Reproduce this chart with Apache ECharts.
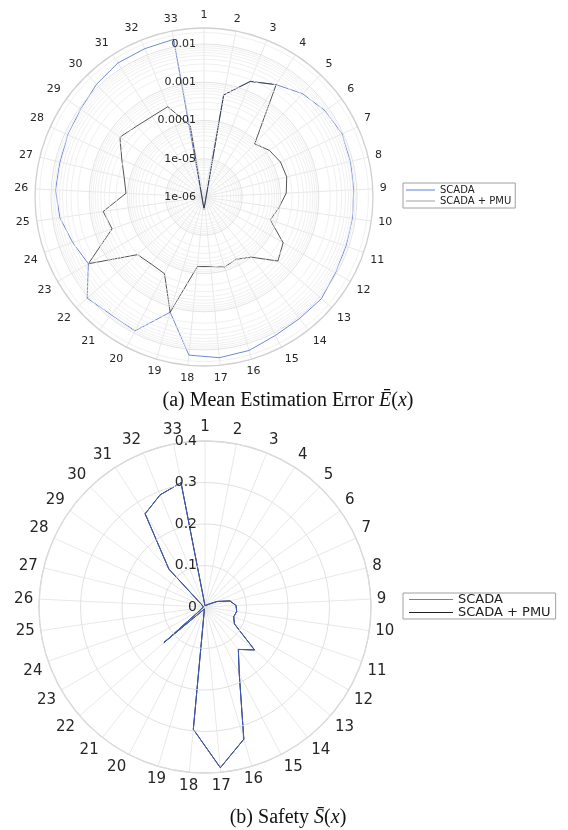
<!DOCTYPE html>
<html>
<head>
<meta charset="utf-8">
<script src="https://cdn.jsdelivr.net/npm/echarts@6/dist/echarts.min.js"></script>
<style>
html, body { margin: 0; padding: 0; background: #fff; }
#main { width: 568px; height: 830px; }
</style>
</head>
<body>
<div id="main"></div>
<script>
// bus numbers around the circle (clockwise from the top)
var buses = ['1','2','3','4','5','6','7','8','9','10','11','12','13','14','15','16','17',
             '18','19','20','21','22','23','24','25','26','27','28','29','30','31','32','33'];

// (a) mean estimation error, log scale
var errScada = [4.8e-7, 5.2e-4, 1.8e-3, 3.1e-3, 5.4e-3, 7.7e-3, 9.3e-3, 8.7e-3, 8.3e-3, 8.3e-3,
                8.5e-3, 9.3e-3, 1.15e-2, 1.1e-2, 1.18e-2, 1.52e-2, 1.66e-2, 1.42e-2, 1.38e-3, 8.7e-3,
                8.3e-3, 1.1e-2, 3.1e-3, 4.3e-3, 6.4e-3, 7.7e-3, 7.5e-3, 8.2e-3, 9.1e-3, 1.18e-2,
                1.46e-2, 1.5e-2, 1.58e-2];
var errPmu = [4.8e-7, 5.2e-4, 1.8e-3, 3.1e-3, 8.3e-5, 1.26e-4, 1.58e-4, 1.68e-4, 1.42e-4, 9.5e-5,
              6.8e-5, 2.45e-4, 3.6e-4, 1.0e-4, 6.8e-5, 8.1e-5, 6.7e-5, 6.7e-5, 1.38e-3, 1.8e-4,
              1.7e-4, 2.0e-4, 3.1e-3, 3.5e-4, 4.6e-4, 1.1e-4, 1.4e-4, 2.3e-4, 5.0e-4, 3.6e-4,
              3.2e-4, 3.5e-4, 7.8e-5];
var errTicks = [1e-6, 1e-5, 1e-4, 1e-3, 1e-2];
var errTickLabels = ['1e-06', '1e-05', '0.0001', '0.001', '0.01'];

// (b) safety, linear scale
var safeScada = [0.003, 0.004, 0.004, 0.005, 0.006, 0.012, 0.032, 0.062, 0.075, 0.077,
                 0.073, 0.082, 0.158, 0.13, 0.18, 0.332, 0.389, 0.296, 0.005, 0.005,
                 0.01, 0.131, 0.01, 0.005, 0.005, 0.004, 0.004, 0.005, 0.01, 0.126,
                 0.267, 0.291, 0.305];
var safePmu = safeScada.slice();
var safeTicks = [0, 0.1, 0.2, 0.3, 0.4];

// minor log grid circles 1..9 x 10^k
var errGrid = [];
for (var k = -6; k <= -2; k++) {
  for (var m = 1; m <= 9; m++) errGrid.push(m * Math.pow(10, k));
}

// [radius, angle] pairs, first point repeated to close the loop
function closed(vals) {
  var out = vals.map(function (v, i) { return [v, i]; });
  out.push([vals[0], vals.length]);
  return out;
}

var font = 'DejaVu Sans';
var serif = 'Liberation Serif';
var chart = echarts.init(document.getElementById('main'));

function angleAxis(idx, size, margin) {
  return {
    polarIndex: idx, type: 'value', min: 0, max: buses.length, interval: 1,
    startAngle: 90, clockwise: true,
    axisLine: { lineStyle: { color: '#d0d0d0', width: 1.3 } },
    axisTick: { show: false },
    splitLine: { lineStyle: { color: '#e2e2e2', width: 0.8 } },
    axisLabel: {
      margin: margin, color: '#262626', fontSize: size, fontFamily: font,
      formatter: function (v) { return buses[v] || ''; }
    }
  };
}

function caption(y, text) {
  return {
    type: 'text', x: 288, y: y,
    style: {
      text: text, align: 'center', verticalAlign: 'middle',
      rich: {
        n: { fontFamily: serif, fontSize: 20, fill: '#111' },
        i: { fontFamily: serif, fontSize: 20, fontStyle: 'italic', fill: '#111' }
      }
    }
  };
}

var option = {
  animation: false,
  backgroundColor: '#fff',
  polar: [
    { center: [204, 197], radius: 169 },
    { center: [205, 607], radius: 166 }
  ],
  angleAxis: [angleAxis(0, 11, 7), angleAxis(1, 15, 6)],
  radiusAxis: [
    {
      polarIndex: 0, type: 'log', min: 0.999e-6, max: 0.0262,
      axisLine: { show: false },
      axisTick: { show: false, customValues: errGrid },
      splitLine: { lineStyle: { width: 0.8,
        color: ['#dcdcdc', '#ececec', '#ececec', '#ececec', '#ececec', '#ececec', '#ececec', '#ececec', '#ececec'] } },
      axisLabel: {
        customValues: errTicks, color: '#262626', fontSize: 11, fontFamily: font,
        formatter: function (v) {
          for (var i = 0; i < errTicks.length; i++) {
            if (Math.abs(Math.log10(v / errTicks[i])) < 1e-6) return errTickLabels[i];
          }
          return '';
        }
      },
      z: 5
    },
    {
      polarIndex: 1, type: 'value', min: safeTicks[0], max: safeTicks[safeTicks.length - 1], interval: 0.1,
      axisLine: { show: false },
      axisTick: { show: false },
      splitLine: { lineStyle: { color: '#dedede', width: 0.9 } },
      axisLabel: { color: '#262626', fontSize: 14, fontFamily: font },
      z: 5
    }
  ],
  legend: [
    {
      left: 403, top: 183, orient: 'vertical', selectedMode: false,
      icon: 'rect', itemWidth: 29, itemHeight: 1, itemGap: 1, padding: [2, 4, 2, 3],
      borderColor: '#a0a0a0', borderWidth: 1,
      textStyle: { fontFamily: font, fontSize: 10, color: '#222' },
      data: [
        { name: 'SCADA', itemStyle: { color: '#5f7fd8' } },
        { name: 'SCADA + PMU', itemStyle: { color: '#a0a0a0' } }
      ]
    },
    {
      left: 403, top: 593, orient: 'vertical', selectedMode: false,
      icon: 'rect', itemWidth: 44, itemHeight: 1, itemGap: 0, padding: [0, 5, 0, 6],
      borderColor: '#a0a0a0', borderWidth: 1,
      textStyle: { fontFamily: font, fontSize: 13, color: '#222' },
      data: [
        { name: 'SCADA', itemStyle: { color: '#5f7fd8' } },
        { name: 'SCADA + PMU', itemStyle: { color: '#222' } }
      ]
    }
  ],
  series: [
    {
      name: 'SCADA', type: 'line', coordinateSystem: 'polar', polarIndex: 0,
      data: closed(errScada), symbol: 'none', clip: false,
      lineStyle: { color: '#4b6bcc', width: 0.8 }, itemStyle: { color: '#4b6bcc' }, z: 3
    },
    {
      name: 'SCADA + PMU', type: 'line', coordinateSystem: 'polar', polarIndex: 0,
      data: closed(errPmu), symbol: 'none', clip: false,
      lineStyle: { color: '#2a2a2a', width: 0.8 }, itemStyle: { color: '#2a2a2a' }, z: 4
    },
    {
      name: 'SCADA + PMU', type: 'line', coordinateSystem: 'polar', polarIndex: 1,
      data: closed(safePmu), symbol: 'none', clip: false,
      lineStyle: { color: '#111', width: 1 }, itemStyle: { color: '#111' }, z: 3
    },
    {
      name: 'SCADA', type: 'line', coordinateSystem: 'polar', polarIndex: 1,
      data: closed(safeScada), symbol: 'none', clip: false,
      lineStyle: { color: '#3f5fc4', width: 1 }, itemStyle: { color: '#3f5fc4' }, z: 4
    }
  ],
  graphic: [
    caption(401, '{n|(a) Mean Estimation Error }{i|\u0112}{n|(}{i|x}{n|)}'),
    caption(818, '{n|(b) Safety }{i|S\u0304}{n|(}{i|x}{n|)}')
  ]
};
chart.setOption(option);
</script>
</body>
</html>
